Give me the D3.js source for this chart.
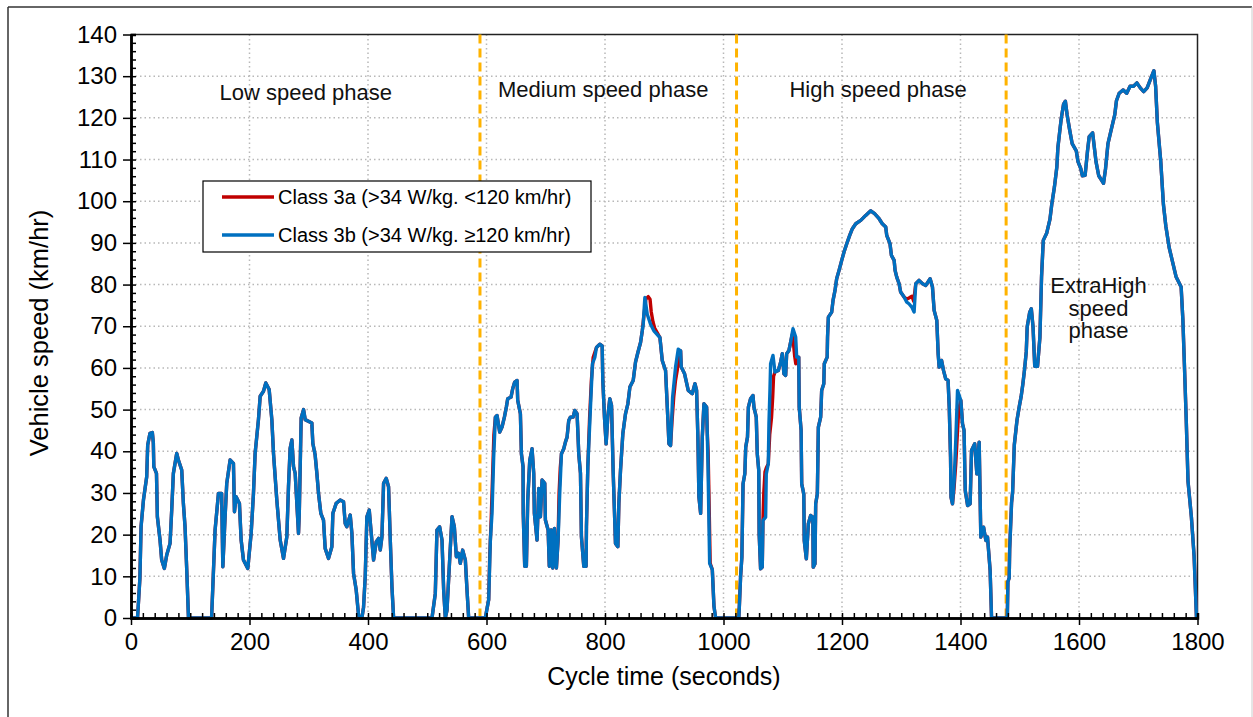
<!DOCTYPE html>
<html>
<head>
<meta charset="utf-8">
<script src="https://cdn.jsdelivr.net/npm/d3@7"></script>
<style>
  body { margin: 0; background: #fff; }
  svg { display: block; font-family: "Liberation Sans", Arial, sans-serif; }
</style>
</head>
<body>
<script>
"use strict";

/*
 * WLTC Class 3 drive cycle: vehicle speed against cycle time.
 */

// [time s, speed km/h], one array per phase (Class 3b)
const lowPhase = [
  [0,0],[11,0],[15,9.5],[17,21.9],[21,28.3],[26.5,33.9],[28.2,41.5],[32,44.3],[36,44.5],[37.7,42],
  [38.5,36.3],[43,34.7],[44.5,24.3],[49,18.7],[51.8,13.9],[56.3,11.9],[60.3,15.1],[65.9,17.9],[68.7,25.9],
  [71.5,34.7],[77.2,39.5],[80,37.9],[85.6,35.5],[88.4,27.5],[91.2,21.9],[94.1,11.5],[97,0],[136,0],
  [141.9,21.1],[147.6,29.9],[153,29.9],[155,12.3],[158.8,24.3],[161.6,32.3],[167.3,37.9],[172.9,37.1],
  [174.6,25.5],[177.4,29.1],[183,27.5],[185.9,18.7],[189.8,13.9],[197.1,11.9],[202.8,20.3],[206.7,29.9],
  [209.5,39.5],[215.1,47.6],[218,53.2],[223.6,54.4],[227.5,56.4],[233.2,54.8],[237.7,47.6],[240.5,39.5],
  [246.1,28.3],[251.8,18.7],[257.4,14.3],[263,19.5],[265.8,31.5],[268.6,40.7],[271.5,42.7],[274.3,36.3],
  [277.1,34.7],[282.7,20.3],[284,25],[287.2,48],[291.2,50],[294,47.6],[305.2,46.8],[306.9,41.9],
  [310.8,39.1],[313.7,34.7],[316.5,29.9],[320.4,25.1],[324.9,23.5],[327.7,16.7],[333.4,14.3],[339,17.1],
  [340.7,25.1],[346.3,27.5],[353.1,28.3],[358.7,27.9],[361.5,22.7],[364.3,21.9],[370,24.7],[372.8,20.3],
  [375.6,10.7],[380.1,6.7],[384.1,0.6],[389.7,0],[392.5,2.6],[395.3,9.9],[398.1,24.3],[402.1,25.9],
  [405.5,20.3],[409.4,13.9],[413.9,18.3],[417.9,19.1],[420.7,16.3],[423.5,19.5],[426.3,32.3],[430.8,33.5],
  [434.7,31.5],[437.6,18.7],[440.4,7.5],[443.2,0],[508,0],[513.6,5.9],[516.4,21.1],[520.9,21.9],
  [524.9,18.7],[527.7,6.7],[530.5,0],[533.3,1.8],[537.8,13.9],[541.8,24.3],[545.7,21.9],[549.1,14.7],
  [553,15.5],[555.8,13.1],[559.8,16.3],[564.3,13.9],[567.1,6.7],[569.9,0],[589,0]
];

const mediumPhase = [
  [598,0],[603.7,4.4],[606.5,18.7],[609.3,25.1],[612.1,38.6],[615,48.2],[617.8,48.6],[622.3,44.6],
  [626.2,45.8],[630.2,48.2],[633.5,50.6],[635.8,52.6],[641.4,53],[644.2,55],[647.6,56.6],[651.6,57],
  [652.7,52.2],[657.2,49],[658.9,39.4],[661.7,36.3],[662,25.1],[664.5,12.4],[667.3,12.4],[669.6,28.3],
  [673,37.8],[676.9,40.6],[679.7,34.7],[680.8,25.1],[685.3,18.7],[688.2,31.1],[691,24.3],[693.8,33.1],
  [698.3,32.3],[699.4,23.5],[704,21.1],[706,12.4],[709,21.1],[711.8,12],[714.6,21.5],[718,12],
  [720.8,18.7],[723.6,29.9],[726.5,39.4],[730.4,40.6],[733.2,42.2],[736,43.4],[738.8,47.4],[741.7,48.2],
  [746.2,48.2],[749,49.8],[752.9,49],[755.7,39.4],[758.6,34.7],[760.2,19.5],[764.2,12.4],[768.1,12.4],
  [768.7,21.9],[771,36.3],[775.5,50.6],[778.8,61],[782.8,62.5],[785.6,64.9],[791.2,65.7],[795.2,65.3],
  [796.3,57],[799.1,48.2],[801.9,41.8],[804.7,48.2],[808.1,52.6],[811,51],[813.8,35],[817.7,17.9],
  [821.7,17.1],[823.4,27.5],[826.2,35.5],[830.1,44.2],[834.6,49],[838.6,51.4],[842,55.4],[847.6,57],
  [851.5,61.4],[855.5,63.7],[860,66.1],[864.5,70.5],[867.3,76.9],[871.3,72.9],[876.9,70.5],[882.5,68.9],
  [892.7,67.3],[896.6,61.8],[902.2,59.4],[906.2,47.4],[907.9,41.8],[910.7,41.4],[914.1,53],[919.1,60.2],
  [923.6,64.5],[927.6,64.1],[928.7,60.2],[934.3,58.6],[940.5,54.6],[947.3,53.8],[951.8,56.2],[954.6,54.6],
  [956.9,42.6],[958.5,29.1],[961.4,25.1],[964.2,43.4],[967,51.4],[971.5,50.6],[973.8,37],[976.6,13.1],
  [981.1,11.6],[983.9,2.8],[986.7,0],[1022,0]
];

const highPhase = [
  [1026,0.2],[1028.8,9.8],[1031,14.6],[1033,32.2],[1036,34.6],[1037.5,41],[1040.5,43.4],[1042,50.6],
  [1045.7,52.6],[1049.7,53.4],[1051.4,50.6],[1055.3,48.2],[1057,39.4],[1059.5,35.4],[1060.2,20.2],
  [1062.6,11.8],[1065.4,12.2],[1066.6,23.4],[1071.1,24.2],[1072.2,34.6],[1075.6,37],[1076.7,46.6],
  [1078.4,54.6],[1079.5,61],[1083.5,63],[1086.9,59],[1092.5,59.4],[1096.4,61.4],[1099.2,63.4],[1102,58.6],
  [1104.9,58.2],[1106.6,63.4],[1110.5,64.2],[1113.3,66.2],[1117.3,69.4],[1121.8,67.4],[1123.5,62.6],
  [1127,62.6],[1127.8,50.6],[1131,45],[1132,32.2],[1135.5,29.8],[1136.3,18.6],[1139.8,14.2],[1143.2,22.6],
  [1147.1,24.6],[1150.7,24.2],[1151.5,12.2],[1154.4,13],[1155.6,27.4],[1158.4,29.8],[1160.1,45.8],
  [1164,48.2],[1165.7,54.6],[1169.3,56.2],[1170.1,61],[1175,62.6],[1175.6,67.4],[1177,72.2],[1182.6,73.4],
  [1184.9,76.2],[1188.2,78.6],[1191,81.4],[1195,83.4],[1199.5,85.8],[1203.4,87.8],[1208,89.8],[1213,91.8],
  [1217.5,93.4],[1223.2,94.6],[1231.6,95.4],[1240,96.6],[1248.5,97.7],[1255,97],[1262.6,95.8],[1268,94.6],
  [1273.8,93.8],[1275.5,91.8],[1281,89.8],[1283.4,87],[1288,85.8],[1289.6,83.4],[1292.4,81.8],[1296.4,80.2],
  [1299,78.2],[1304.8,77],[1309.3,75.8],[1313,75.4],[1317.8,74.6],[1321.7,73.4],[1324.5,80.2],[1330,81],
  [1336,80.2],[1341.4,79.8],[1348.7,81.4],[1352.7,79.4],[1355.5,73.8],[1360,71.4],[1362.3,63.4],[1364,60.2],
  [1368,61.8],[1371.3,59.4],[1375,57.4],[1379,57],[1381,50.6],[1383.2,38.6],[1384,29],[1386.5,27.4],
  [1389.3,33],[1392,42.6],[1395,54.6],[1400.6,52.2],[1403.4,46.6],[1406,45],[1408,30.6],[1412,27],
  [1416.3,27.4],[1418.6,40.2],[1424,41.8],[1427.6,34.6],[1431.5,42.2],[1434.3,19.4],[1438.9,21.8],
  [1442.8,18.6],[1445.6,19.4],[1450,11.4],[1452.4,0],[1477,0]
];

const extraHighPhase = [
  [1479,0],[1480,8.7],[1482.2,9.6],[1483,16.5],[1486.2,27.7],[1488,30.3],[1490.8,41.5],[1495.4,47.5],
  [1499.4,50.9],[1502.3,53.1],[1505.2,56.1],[1508,59.5],[1511,63.9],[1512.6,69.9],[1516.7,73.3],
  [1519.5,74.2],[1522.4,69.9],[1525.3,60.4],[1530,60.4],[1534,67.3],[1536.8,81.9],[1539.7,90.6],
  [1545.4,92.3],[1551,95.7],[1554,99.2],[1558.6,103.5],[1562.6,108.2],[1564.4,112.9],[1567.2,116.4],
  [1570,119.8],[1574,123.3],[1577,124],[1580,120.7],[1584,117.3],[1588.5,113.8],[1595.4,112.1],
  [1598.3,109.5],[1603,107.8],[1605.7,106.1],[1610.3,106.2],[1614.4,112.1],[1617.2,115.5],[1623,116.4],
  [1625.9,112.9],[1628.7,109.5],[1633.3,106.1],[1637.4,105.2],[1641.4,104.3],[1644.8,107.8],[1648.9,113.8],
  [1654.6,117.3],[1660.3,120.7],[1663.2,124.1],[1667.8,125.9],[1674.7,126.7],[1680.5,125.9],[1686.2,127.6],
  [1692,127.6],[1697.7,128.4],[1703.4,127.2],[1709.2,126.3],[1715,127.2],[1720.7,129.3],[1726.4,131.3],
  [1729.3,127.6],[1732.2,119],[1738,109.5],[1742.5,99.2],[1746.6,94],[1752.3,88.8],[1758,85.4],
  [1763.8,81.9],[1772.4,79.4],[1775.3,71.6],[1778.2,59.5],[1781,47.5],[1784,32.8],[1789.7,24.2],
  [1794.3,14.8],[1798.3,0],[1800,0]
];

// stretches where Class 3a departs from Class 3b (red shows through)
const class3aSegments = [
  [[603.7,4.4],[605.5,15],[608,24],[610.5,35],[612.5,44],[615,48.2]],
  [[720.8,18.7],[722.5,30],[724.5,36],[726.5,39.4]],
  [[771,36.3],[774,48],[777,57],[780,62.5],[785.6,64.9]],
  [[860,66.1],[863,69],[866,73],[869,76.5],[873,77.1],[876,76.5],[878,73.5],[881,71],[884,69.5],[892.7,67.3]],
  [[910.7,41.4],[913,47],[916,53],[919,57],[922,59.5],[925,63],[927.6,64.1]],
  [[971.5,50.6],[972.5,45],[974,40],[975.5,29],[977.5,13.1]],
  [[1066.6,23.4],[1068,30],[1070,35],[1072.2,36],[1075.6,37]],
  [[1075.6,37],[1078,44],[1081,48],[1083,53],[1084.5,58],[1086.9,59]],
  [[1113.3,66.2],[1116,68],[1118,66],[1120,63],[1122,61],[1123.5,62.6]],
  [[1304.8,77],[1309,76.5],[1313,76.8],[1318,77.2],[1321,76],[1324.5,80.2]],
  [[1386.5,27.4],[1389,31],[1392,37],[1395,45],[1397,50],[1400.6,52.2]]
];

const phaseBounds = [589, 1022, 1477];
const phaseNames = [
  {lines: ["Low speed phase"], t: 295, v: 124.3},
  {lines: ["Medium speed phase"], t: 797, v: 125.1},
  {lines: ["High speed phase"], t: 1261, v: 125.1},
  {lines: ["ExtraHigh", "speed", "phase"], t: 1633, v: 77.9}
];
const seriesNames = ["Class 3a (>34 W/kg. <120 km/hr)", "Class 3b (>34 W/kg. \u2265120 km/hr)"];
const seriesColors = ["#C00000", "#0070C0"];

const xTicks = d3.range(0, 1801, 200);
const yTicks = d3.range(0, 141, 10);

const width = 1253;
const height = 717;
const plot = {left: 131, right: 1197.5, top: 34.5, bottom: 618};

const class3b = lowPhase.concat(mediumPhase, highPhase, extraHighPhase);

function buildClass3a(base, segments) {
  let out = base.slice();
  for (let seg of segments) {
    let t0 = seg[0][0], t1 = seg[seg.length - 1][0];
    out = out.filter(d => d[0] < t0 || d[0] > t1).concat(seg);
  }
  return out.sort((a, b) => a[0] - b[0]);
}
const class3a = buildClass3a(class3b, class3aSegments);

const svg = d3.select("body").append("svg")
    .attr("width", width)
    .attr("height", height);

// outer frame
svg.append("line").attr("x1", 8).attr("y1", 7).attr("x2", 1252).attr("y2", 7)
    .attr("stroke", "#333").attr("stroke-width", 1.5);
svg.append("line").attr("x1", 8).attr("y1", 7).attr("x2", 8).attr("y2", 717)
    .attr("stroke", "#333").attr("stroke-width", 1.5);
svg.append("line").attr("x1", 1252).attr("y1", 7).attr("x2", 1252).attr("y2", 717)
    .attr("stroke", "#ccc").attr("stroke-width", 1);

let x = d3.scaleLinear().domain([0, 1800]).range([plot.left, plot.right]);
let y = d3.scaleLinear().domain([0, 140]).range([plot.bottom, plot.top]);

// dotted grid
let grid = svg.append("g")
    .attr("stroke", "#b8b8b8")
    .attr("stroke-width", 1.5)
    .attr("stroke-dasharray", "1.5,3");
grid.selectAll("line.h")
  .data(yTicks.filter(v => v > 0 && v < 140))
  .enter().append("line")
    .attr("class", "h")
    .attr("x1", plot.left).attr("x2", plot.right)
    .attr("y1", d => y(d)).attr("y2", d => y(d));
grid.selectAll("line.v")
  .data(xTicks.filter(t => t > 0 && t < 1800))
  .enter().append("line")
    .attr("class", "v")
    .attr("y1", plot.top).attr("y2", plot.bottom)
    .attr("x1", d => x(d)).attr("x2", d => x(d));

// plot box top and right
svg.append("path")
    .attr("d", `M${plot.left},${plot.top}H${plot.right}V${plot.bottom}`)
    .attr("fill", "none")
    .attr("stroke", "#222")
    .attr("stroke-width", 1.5);

// phase boundaries
svg.append("g").selectAll("line")
  .data(phaseBounds)
  .enter().append("line")
    .attr("x1", d => x(d)).attr("x2", d => x(d))
    .attr("y1", plot.top).attr("y2", plot.bottom)
    .attr("stroke", "#FFB300")
    .attr("stroke-width", 3)
    .attr("stroke-dasharray", "9,5");

// speed traces
let line = d3.line().x(d => x(d[0])).y(d => y(d[1]));
[class3a, class3b].forEach((data, i) => {
  svg.append("path")
      .datum(data)
      .attr("d", line)
      .attr("fill", "none")
      .attr("stroke", seriesColors[i])
      .attr("stroke-width", 3.4)
      .attr("stroke-linejoin", "round");
});

// axes
let yAxis = svg.append("g")
    .attr("transform", `translate(${plot.left},0)`)
    .call(d3.axisLeft(y).tickValues(yTicks).tickSizeInner(8).tickSizeOuter(0).tickPadding(6)
          .tickFormat(d3.format("d")));
let yMinor = svg.append("g")
    .attr("transform", `translate(${plot.left},0)`)
    .call(d3.axisRight(y).tickValues(d3.range(0, 141, 2)).tickSize(5).tickFormat(""));
let xAxis = svg.append("g")
    .attr("transform", `translate(0,${plot.bottom})`)
    .call(d3.axisBottom(x).tickValues(xTicks).tickSizeInner(7).tickSizeOuter(0).tickPadding(8)
          .tickFormat(d3.format("d")));
let xMinor = svg.append("g")
    .attr("transform", `translate(0,${plot.bottom})`)
    .call(d3.axisTop(x).tickValues(d3.range(0, 1801, 20)).tickSize(5).tickFormat(""));

for (let g of [yAxis, yMinor, xAxis, xMinor]) {
  g.selectAll("line").attr("stroke", "#000").attr("stroke-width", 1.5);
  g.select(".domain").attr("stroke", "#000").attr("stroke-width", 2.5);
  g.selectAll("text")
      .attr("font-family", "Liberation Sans, Arial, sans-serif")
      .attr("font-size", 24)
      .attr("fill", "#000");
}

svg.append("text")
    .attr("transform", "translate(48,333) rotate(-90)")
    .attr("text-anchor", "middle")
    .attr("font-size", 25.5)
    .text("Vehicle speed (km/hr)");
svg.append("text")
    .attr("x", 664)
    .attr("y", 685)
    .attr("text-anchor", "middle")
    .attr("font-size", 25)
    .text("Cycle time (seconds)");

// phase labels
for (let p of phaseNames) {
  let t = svg.append("text")
      .attr("text-anchor", "middle")
      .attr("font-size", 22)
      .attr("fill", "#111");
  p.lines.forEach((s, i) => {
    t.append("tspan")
        .attr("x", x(p.t))
        .attr("y", y(p.v) + i * 22.5)
        .text(s);
  });
}

// legend
let legend = svg.append("g").attr("transform", "translate(203,181)");
legend.append("rect")
    .attr("width", 388).attr("height", 71)
    .attr("fill", "#fff")
    .attr("stroke", "#000")
    .attr("stroke-width", 1.2);
seriesNames.forEach((name, i) => {
  let row = legend.append("g").attr("transform", `translate(0,${16 + i * 38})`);
  row.append("line")
      .attr("x1", 19).attr("x2", 71)
      .attr("stroke", seriesColors[i])
      .attr("stroke-width", 3.4);
  row.append("text")
      .attr("x", 75)
      .attr("y", 7)
      .attr("font-size", 20)
      .text(name);
});
</script>
</body>
</html>
